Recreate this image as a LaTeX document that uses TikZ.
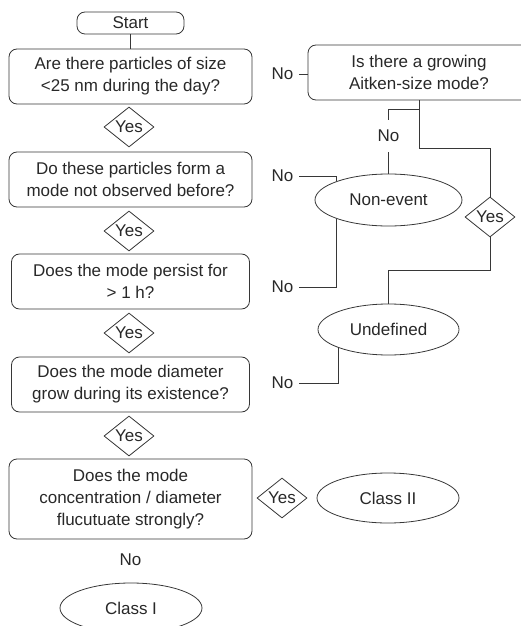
\documentclass[tikz,border=0pt]{standalone}
\usepackage{fontspec}
\setmainfont{Liberation Sans}
\usetikzlibrary{shapes.geometric}
\definecolor{ln}{RGB}{55,55,55}
\definecolor{tx}{RGB}{40,40,40}
\tikzset{
  box/.style={draw=ln, line width=0.8bp, rounded corners=8bp, align=center, inner sep=0pt, text=tx},
  oval/.style={draw=ln, line width=0.8bp, ellipse, inner sep=0pt, minimum width=142bp, minimum height=50bp, text=tx},
  yesd/.style={draw=ln, line width=0.8bp, diamond, inner sep=0pt, minimum width=50bp, minimum height=40bp, text=tx},
  lbl/.style={inner xsep=5.5bp, inner ysep=2bp, text=tx},
  conn/.style={draw=ln, line width=0.8bp}
}
\begin{document}
\begin{tikzpicture}[x=1bp,y=-1bp, font=\fontsize{17bp}{22bp}\selectfont]
\clip (0,0) rectangle (521,626);
% left column
\node[box, minimum width=107bp, minimum height=22bp] (start) at (130.5,23) {Start};
\node[box, minimum width=243bp, minimum height=55bp] (q1) at (130.5,76.5) {Are there particles of size\\<25 nm during the day?};
\node[yesd] (y1) at (129,127) {\makebox[0pt]{Yes}};
\node[box, minimum width=243bp, minimum height=55bp] (q2) at (130.5,179.5) {Do these particles form a\\mode not observed before?};
\node[yesd] (y2) at (129,231) {\makebox[0pt]{Yes}};
\node[box, minimum width=238bp, minimum height=55bp] (q3) at (130.5,281.5) {Does the mode persist for\\> 1 h?};
\node[yesd] (y3) at (129,333) {\makebox[0pt]{Yes}};
\node[box, minimum width=238bp, minimum height=55bp] (q4) at (130.5,384.5) {Does the mode diameter\\grow during its existence?};
\node[yesd] (y4) at (129,436) {\makebox[0pt]{Yes}};
\node[box, minimum width=243bp, minimum height=80bp] (q5) at (130.5,499) {Does the mode\\concentration / diameter\\flucutuate strongly?};
\node[yesd] (y5) at (282,498) {\makebox[0pt]{Yes}};
\node[oval] (c2) at (388,498) {Class II};
\node[lbl] (n5) at (130.5,560) {No};
\node[oval] (c1) at (131,608) {Class I};
% right column
\node[box, minimum width=222bp, minimum height=55bp] (ait) at (419,72.5) {Is there a growing\\Aitken-size mode?};
\node[lbl] (n1) at (282.5,74) {No};
\node[lbl] (n2) at (282.5,176) {No};
\node[lbl] (n3) at (282.5,287) {No};
\node[lbl] (n4) at (282.5,383) {No};
\node[lbl, inner ysep=10bp] (nv) at (388.5,136) {No};
\node[oval, minimum width=147bp, minimum height=52bp] (nev) at (388.5,200) {Non-event};
\node[yesd] (yR) at (490,217) {\makebox[0pt]{Yes}};
\node[oval, minimum width=141bp, minimum height=51bp] (und) at (388.5,329.5) {Undefined};
\coordinate (j1) at (419,148);
\coordinate (j2) at (419,109);
\coordinate (j3) at (388.5,270);
% connectors
\draw[conn] (start.south) -- (q1.north);
\draw[conn] (n1.east) -- (n1.east -| ait.west);
\draw[conn] (ait.south) -- (j1) -| (yR.north);
\draw[conn] (j2) -| (nv.north);
\draw[conn] (nv.south) -- (nev.north);
\draw[conn] (yR.south) |- (j3) -- (und.north);
\draw[conn] (n2.east) -| (nev.160);
\draw[conn] (n3.east) -| (nev.200);
\draw[conn] (n4.east) -| (und.200);
\end{tikzpicture}
\end{document}
